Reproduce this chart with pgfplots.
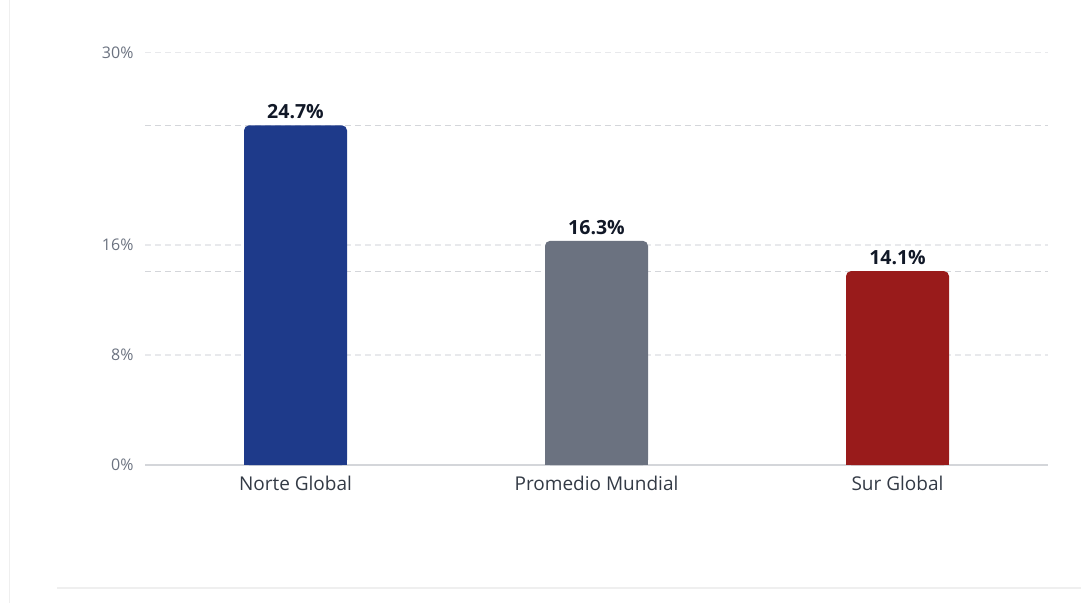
\documentclass[border=0pt]{standalone}
\usepackage{pgfplots}
\pgfplotsset{compat=1.18}
\usepackage{fontspec}
\setmainfont{Open Sans}

\definecolor{norte}{HTML}{1E3A8A}
\definecolor{promedio}{HTML}{6B7280}
\definecolor{sur}{HTML}{991B1B}
\definecolor{gridc}{HTML}{E8E9EC}
\definecolor{refc}{HTML}{D4D6DA}
\definecolor{tickc}{HTML}{6B7280}
\definecolor{labc}{HTML}{333A45}
\definecolor{valc}{HTML}{111827}
\definecolor{framec}{HTML}{EFEFEF}

\begin{document}
\begin{tikzpicture}[x=1pt,y=1pt]
\path[use as bounding box] (0,0) rectangle (1081,603);
% faint outer frame
\draw[framec, line width=1.5pt] (9.5,0) -- (9.5,603);
\draw[framec, line width=1.5pt] (57,15) -- (1081,15);

\begin{axis}[
    at={(145pt,138pt)}, anchor=south west,
    scale only axis,
    width=903pt, height=412.5pt,
    xmin=-0.5, xmax=2.5,
    ymin=0, ymax=30,
    axis x line*=bottom,
    axis y line*=left,
    x axis line style={draw=refc, line width=1.2pt},
    y axis line style={draw=none},
    xtick={0,1,2},
    xticklabels={Norte Global, Promedio Mundial, Sur Global},
    ytick={0,8,16,30},
    yticklabels={0\%, 8\%, 16\%, 30\%},
    major tick length=0pt,
    ymajorgrids,
    major grid style={gridc, line width=1.2pt, dash pattern=on 6pt off 4pt},
    yticklabel style={font=\fontsize{16}{19}\selectfont, text=tickc, xshift=-8pt},
    xticklabel style={font=\fontsize{19}{22}\selectfont, text=labc, yshift=-8pt},
    /pgf/number format/assume math mode=true,
    clip=false,
]
% reference lines
\addplot[refc, line width=1.2pt, dash pattern=on 6pt off 4pt] coordinates {(-0.5,24.7) (2.5,24.7)};
\addplot[refc, line width=1.2pt, dash pattern=on 6pt off 4pt] coordinates {(-0.5,14.1) (2.5,14.1)};

% bars (rounded top), with a square lower part to flatten the base
\addplot[ybar, bar width=103pt, bar shift=0pt, fill=norte, draw=none, rounded corners=5pt,
    nodes near coords={\pgfmathprintnumber[fixed,fixed zerofill,precision=1]{\pgfplotspointmeta}\%},
    nodes near coords style={font=\bfseries\fontsize{19.5}{22}\selectfont, text=valc, yshift=3pt}]
    coordinates {(0,24.7)};
\addplot[ybar, bar width=103pt, bar shift=0pt, fill=norte, draw=none] coordinates {(0,10)};

\addplot[ybar, bar width=103pt, bar shift=0pt, fill=promedio, draw=none, rounded corners=5pt,
    nodes near coords={\pgfmathprintnumber[fixed,fixed zerofill,precision=1]{\pgfplotspointmeta}\%},
    nodes near coords style={font=\bfseries\fontsize{19.5}{22}\selectfont, text=valc, yshift=3pt}]
    coordinates {(1,16.3)};
\addplot[ybar, bar width=103pt, bar shift=0pt, fill=promedio, draw=none] coordinates {(1,8)};

\addplot[ybar, bar width=103pt, bar shift=0pt, fill=sur, draw=none, rounded corners=5pt,
    nodes near coords={\pgfmathprintnumber[fixed,fixed zerofill,precision=1]{\pgfplotspointmeta}\%},
    nodes near coords style={font=\bfseries\fontsize{19.5}{22}\selectfont, text=valc, yshift=3pt}]
    coordinates {(2,14.1)};
\addplot[ybar, bar width=103pt, bar shift=0pt, fill=sur, draw=none] coordinates {(2,7)};
\end{axis}
\end{tikzpicture}
\end{document}
